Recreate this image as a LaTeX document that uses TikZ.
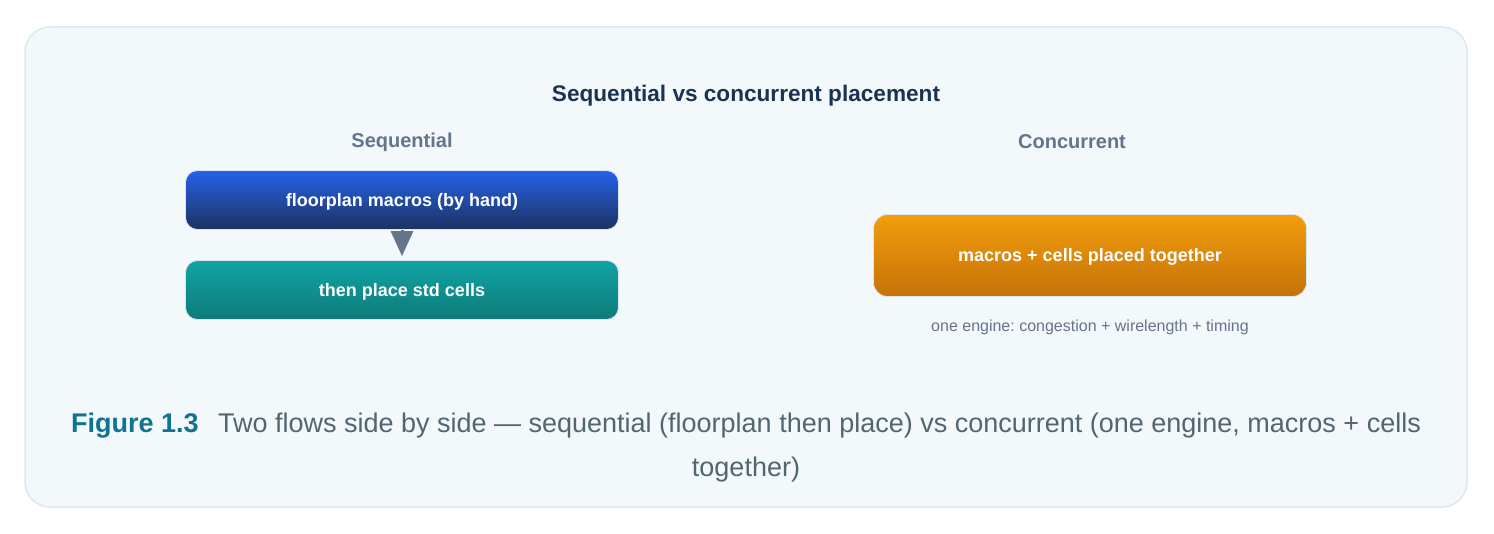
\documentclass[tikz,border=0pt]{standalone}
\usepackage{fontspec}
\setmainfont{Liberation Sans}
\usepackage{tikz}
\usetikzlibrary{positioning,arrows.meta}
\definecolor{framefill}{HTML}{F3F8FB}
\definecolor{frameedge}{HTML}{D8E9EF}
\definecolor{navy}{HTML}{1B3352}
\definecolor{slate}{HTML}{64748B}
\definecolor{capgray}{HTML}{52666F}
\definecolor{figteal}{HTML}{0E7490}
\definecolor{boxedge}{HTML}{DCE4EE}
\definecolor{bluetop}{HTML}{2563EB}
\definecolor{bluebot}{HTML}{1C3260}
\definecolor{tealtop}{HTML}{10A4A3}
\definecolor{tealbot}{HTML}{0E7B7A}
\definecolor{orangetop}{HTML}{F39E0B}
\definecolor{orangebot}{HTML}{C4720A}
\frenchspacing

\begin{document}
\begin{tikzpicture}[x=1pt, y=-1pt,
  stage/.style={rounded corners=12pt, minimum width=433pt, minimum height=59pt,
    draw=boxedge, line width=0.8pt, text=white, inner sep=0pt,
    text height=13pt, text depth=0pt,
    font=\fontsize{18}{22}\selectfont\bfseries},
  colhead/.style={text=slate, font=\fontsize{20}{24}\selectfont\bfseries},
  flow/.style={draw=slate, fill=slate, line width=3pt,
    -{Triangle[length=25pt, width=22pt]}}]
  \useasboundingbox (0,0) rectangle (1494,534);
  \draw[frameedge, fill=framefill, line width=1.5pt, rounded corners=25pt]
    (25,27) rectangle (1467,507);

  \node[text=navy, font=\fontsize{22.6}{26}\selectfont\bfseries] (title) at (746,96)
    {Sequential vs concurrent placement};
  \node[colhead] (seqhead) at (402,142) {Sequential};
  \node[colhead] (conchead) at (1072,142) {Concurrent};

  % sequential flow
  \node[stage, top color=bluetop, bottom color=bluebot] (floorplan) at (402,200)
    {floorplan macros (by hand)};
  \node[stage, top color=tealtop, bottom color=tealbot] (stdcells) at (402,290)
    {then place std cells};
  \draw[flow, shorten >=4pt] (floorplan) -- (stdcells);

  % concurrent flow
  \node[stage, rounded corners=14pt, minimum height=82pt,
    top color=orangetop, bottom color=orangebot] (together) at (1090,255.5)
    {macros + cells placed together};
  \node[text=slate, font=\fontsize{16}{20}\selectfont] (engine) at (1090,327)
    {one engine: congestion + wirelength + timing};

  \node[text=capgray, align=center, font=\fontsize{27}{44}\selectfont] (caption) at (746,448)
    {\textcolor{figteal}{\bfseries Figure 1.3}\hspace{12pt} Two flows side by side --- sequential (floorplan then place) vs concurrent (one engine, macros + cells\\together)};
\end{tikzpicture}
\end{document}
